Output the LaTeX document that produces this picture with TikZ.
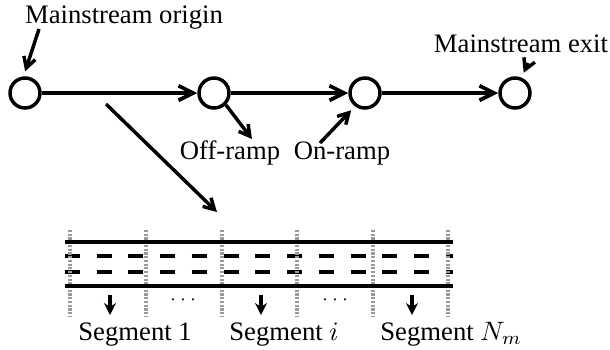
\documentclass[tikz,border=0pt]{standalone}
\usepackage{fontspec}
\setmainfont{Liberation Serif}
\usetikzlibrary{arrows.meta, positioning}

\begin{document}
\begin{tikzpicture}[x=0.375pt, y=-0.375pt, font=\fontsize{10}{12}\selectfont,
    junction/.style={draw, circle, line width=1.3pt, minimum size=11.25pt, inner sep=0pt},
    mainline/.style={line width=1.4pt, -{Straight Barb[length=5.5pt,width=5.5pt]}},
    pointer/.style={line width=1.3pt, -{Straight Barb[length=4pt,width=4.5pt]}, shorten >=2pt},
    segarrow/.style={line width=1.4pt, -{Stealth[length=4.5pt,width=4.5pt]}},
    roadedge/.style={line width=1.4pt},
    lane/.style={line width=1.4pt, dash pattern=on 5.6pt off 6.3pt},
    cellborder/.style={gray!80, line width=1.2pt, dash pattern=on 0.8pt off 0.6pt}]
  \useasboundingbox (0,0) rectangle (610,349);
  % mainstream and ramps
  \node[junction] (origin) at (25,93) {};
  \node[junction] (offjunc) at (214,93) {};
  \node[junction] (onjunc) at (365,93) {};
  \node[junction] (exit) at (515,93) {};
  \draw[mainline] (origin) -- (offjunc);
  \draw[mainline] (offjunc) -- (onjunc);
  \draw[mainline] (onjunc) -- (exit);
  \node[anchor=base] (originlabel) at (124,23) {Mainstream origin};
  \node[anchor=base] (exitlabel) at (521,52) {Mainstream exit};
  \node[anchor=base] (offlabel) at (230,159) {Off-ramp};
  \node[anchor=base] (onlabel) at (342,159) {On-ramp};
  \coordinate (originptr) at (39,29);
  \coordinate (exitptr) at (528,63);
  \coordinate (offptr) at (252,139);
  \coordinate (onptr) at (320,143);
  \draw[pointer] (originptr) -- (origin.95);
  \draw[pointer] (exitptr) -- (exit.67);
  \draw[pointer, shorten >=0pt] (offjunc.-45) -- (offptr);
  \draw[pointer] (onptr) -- (onjunc.-127);
  % zoom into the road
  \coordinate (zoomstart) at (106,104);
  \coordinate (zoomend) at (217,212);
  \draw[pointer, shorten >=0pt] (zoomstart) -- (zoomend);
  \draw[lane] (65,256) -- (453,256);
  \draw[lane] (65,272) -- (453,272);
  \foreach \x in {70,146,222,297,373,448}
    \draw[cellborder] (\x,230) -- (\x,317);
  \draw[roadedge] (65,242) -- (453,242);
  \draw[roadedge] (65,286) -- (453,286);
  \node at (183,300) {\scriptsize$\cdots$};
  \node at (335,300) {\scriptsize$\cdots$};
  % segments
  \foreach \x/\lab/\name in {110/Segment 1/segfirst, 261/Segment $i$/segmid, 412/Segment $N_m$/seglast} {
    \coordinate (\name-top) at (\x,295);
    \node[anchor=base west] (\name) at (\x-41,340) {\lab};
    \draw[segarrow] (\name-top) -- ++(0,20);
  }
\end{tikzpicture}
\end{document}
